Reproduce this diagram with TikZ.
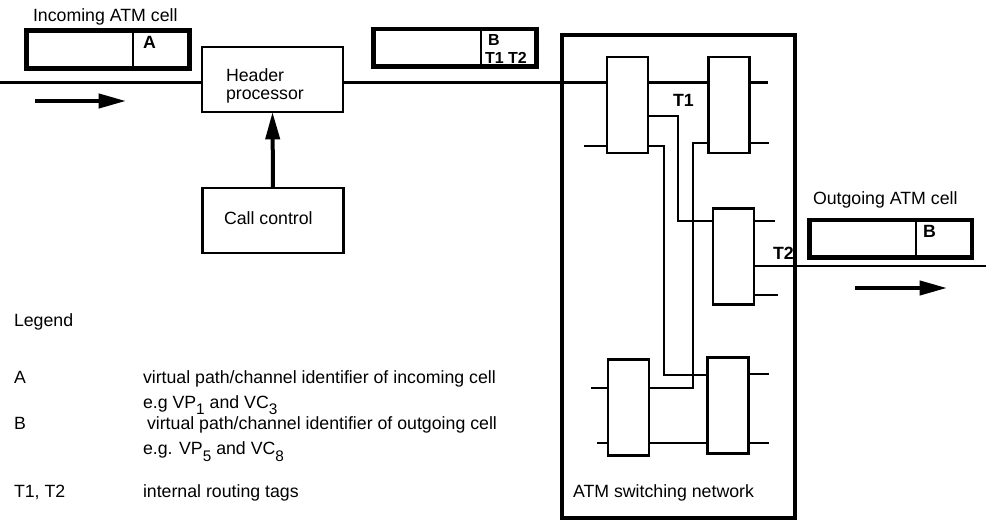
\documentclass[tikz,border=0pt]{standalone}
\usepackage{fontspec}
\setmainfont{Liberation Sans}
\usetikzlibrary{arrows.meta}

\newcommand{\lowsub}[1]{\raisebox{-5pt}{\fontsize{11.5}{12}\selectfont #1}}

\begin{document}
\begin{tikzpicture}[
    x=0.75pt, y=-0.75pt,
    every node/.style={font=\fontsize{13.3}{16}\selectfont, inner sep=0pt, outer sep=0pt},
    txt/.style={anchor=base west},
    tagtext/.style={anchor=base west, font=\fontsize{13.3}{16}\selectfont\bfseries},
    smalltag/.style={anchor=base west, font=\fontsize{12}{13.5}\selectfont\bfseries},
    procbox/.style={draw, line width=1.9pt, minimum width=106pt, minimum height=48.75pt},
    cellbox/.style={draw, line width=3.4pt, minimum width=122pt, minimum height=28.3pt},
    switchbox/.style={draw, line width=1.9pt, minimum width=30.75pt, minimum height=72pt},
    wire/.style={line width=2.2pt},
    divider/.style={line width=1.6pt},
    flow/.style={line width=3pt, -{Triangle[length=20.5pt, width=10.5pt]}}
]

\useasboundingbox (0,0) rectangle (986,520);

% ============ INCOMING SIDE ============
\node[txt] (inlabel) at (33,22) {Incoming ATM cell};
\node[cellbox] (incell) at (108,49.5) {};
\draw[divider] (incell.north -| 133,0) -- (incell.south -| 133,0);
\node[tagtext] (idA) at (143,49) {A};

\coordinate (inL) at (0,82.5);
\coordinate (inA) at (35,101);
\coordinate (inB) at (126,101);
\draw[flow] (inA) -- (inB);

% Header processor and call control
\node[procbox] (hdr) at (272.5,79.5) {};
\node[txt] (hdrtext) at (226,82) {Header};
\node[txt] (hdrtext2) at (226,100) {processor};

\node[procbox] (cc) at (273,220.5) {};
\node[txt] (cctext) at (224,225) {Call control};
\draw[flow] (cc.north) -- (hdr.south);

% Cell after header translation
\node[cellbox] (tagcell) at (455,47.75) {};
\draw[divider] (tagcell.north -| 481,0) -- (tagcell.south -| 481,0);
\node[smalltag] (idB) at (488,45.5) {B};
\node[smalltag] (idT) at (485,63.5) {T1 T2};

% ============ SWITCHING NETWORK ============
\node[draw, line width=3.4pt, minimum width=174.75pt, minimum height=362.25pt] (net) at (678.5,276.5) {};
\node[txt] (nettext) at (573,497) {ATM switching network};

\node[switchbox] (sw1) at (627.5,105) {};
\node[switchbox] (sw2) at (729,105) {};
\node[switchbox] (sw3) at (733.5,256.5) {};
\node[switchbox] (sw4) at (628.5,407.5) {};
\node[switchbox] (sw5) at (728,405.5) {};

% Main path
\draw[wire] (inL) -- (inL -| hdr.west);
\draw[wire] (hdr.east |- inL) -- (sw1.west |- inL);
\draw[wire] (sw1.east |- inL) -- (sw2.west |- inL);
\draw[wire] (sw2.east |- inL) -- ++(18,0);

% Internal links
\draw[wire] (sw1.east |- 0,116) -| (678,221) -- (sw3.west |- 0,221);
\draw[wire] (sw1.east |- 0,146) -| (664,375) -- (sw5.west |- 0,375);
\draw[wire] (sw2.west |- 0,143) -| (693,388) -- (sw4.east |- 0,388);
\draw[wire] (sw4.east |- 0,443) -- (sw5.west |- 0,443);

% Stubs
\draw[wire] (sw1.west |- 0,146) -- ++(-23,0);
\draw[wire] (sw2.east |- 0,143) -- ++(19,0);
\draw[wire] (sw3.east |- 0,221) -- ++(21,0);
\draw[wire] (sw3.east |- 0,295) -- ++(24,0);
\draw[wire] (sw4.west |- 0,388) -- ++(-17,0);
\draw[wire] (sw4.west |- 0,443) -- ++(-11,0);
\draw[wire] (sw5.east |- 0,374) -- ++(20,0);
\draw[wire] (sw5.east |- 0,443) -- ++(20,0);

\node[tagtext] (tagT1) at (673,107) {T1};
\node[tagtext] (tagT2) at (773,260) {T2};

% ============ OUTGOING SIDE ============
\coordinate (outR) at (986,266);
\draw[wire] (sw3.east |- outR) -- (outR);

\node[txt] (outlabel) at (813,205) {Outgoing ATM cell};
\node[cellbox] (outcell) at (890.75,238.75) {};
\draw[divider] (outcell.north -| 916,0) -- (outcell.south -| 916,0);
\node[tagtext] (idB2) at (923,238) {B};

\coordinate (outA) at (855,288);
\coordinate (outB) at (947,288);
\draw[flow] (outA) -- (outB);

% ============ LEGEND ============
\node[txt] (legend) at (14,327) {Legend};
\node[txt] (keyA) at (14,383) {A};
\node[txt] (descA) at (143,383) {virtual path/channel identifier of incoming cell};
\node[txt] (egA) at (143,408) {e.g VP\lowsub{1} and VC\lowsub{3}};
\node[txt] (keyB) at (14,430) {B};
\node[txt] (descB) at (147,430) {virtual path/channel identifier of outgoing cell};
\node[txt] (egB) at (143,455) {e.g. VP\lowsub{5} and VC\lowsub{8}};
\node[txt] (keyT) at (14,497) {T1, T2};
\node[txt] (descT) at (143,497) {internal routing tags};

\end{tikzpicture}
\end{document}
